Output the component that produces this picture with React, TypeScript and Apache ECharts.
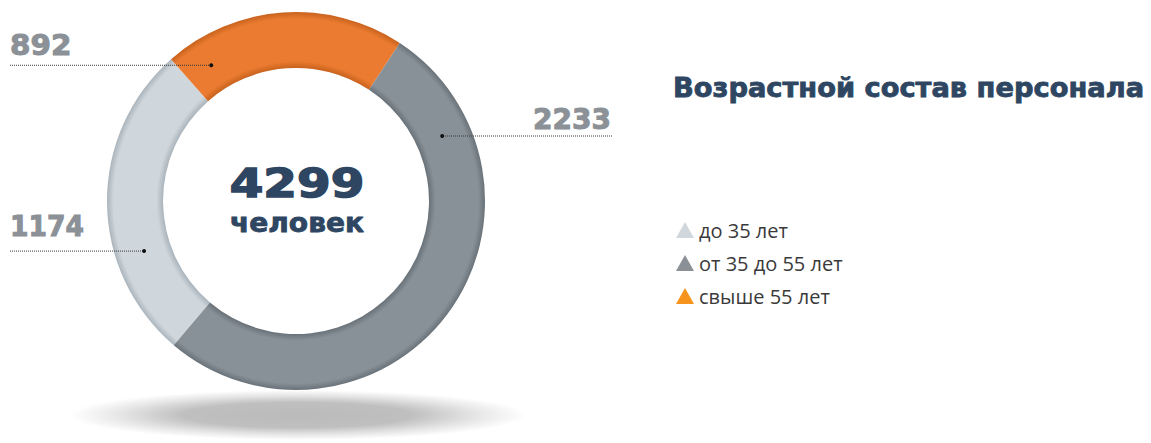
import { useEffect, useRef } from 'react';
import * as echarts from 'echarts';

// ---- data ----
const categories: string[] = ['до 35 лет', 'от 35 до 55 лет', 'свыше 55 лет'];
const values: number[] = [1174, 2233, 892];
const centerCaption: string = 'человек';
const title: string = 'Возрастной состав персонала';
// clockwise drawing order of the ring (indices into categories)
const ringOrder: number[] = [0, 2, 1];

// ---- styles ----
const baseColors = ['#d0d7dc', '#889098', '#ea7b30'];
const edgeColors = ['#aab4bc', '#6a7279', '#c8621d'];
const legendColors = ['#d1d8dd', '#8a9096', '#f7941d'];

const CX = 296;
const CY = 201;
const R_IN = 133;
const R_OUT = 189;
const START_CW_FROM_TOP = 220.3; // degrees, clockwise from 12 o'clock
const DOT_R = 160;

// label layout per category: fraction of the segment where the dot sits,
// the x where the dotted line ends, and text placement
const labelLayout = [
  { frac: 0.32, lineEndX: 10, textX: 10, align: 'left', textGap: 11, scaleX: 0.95 },
  { frac: 0.175, lineEndX: 612, textX: 611, align: 'right', textGap: 2.5, scaleX: 1 },
  { frac: 0.126, lineEndX: 10, textX: 10, align: 'left', textGap: 6.5, scaleX: 1.05 },
];

function ringGradient(i: number) {
  const k = R_IN / R_OUT;
  return {
    type: 'radial',
    x: CX,
    y: CY,
    r: R_OUT,
    global: true,
    colorStops: [
      { offset: 0, color: edgeColors[i] },
      { offset: k, color: edgeColors[i] },
      { offset: k + 0.035, color: baseColors[i] },
      { offset: 0.965, color: baseColors[i] },
      { offset: 1, color: edgeColors[i] },
    ],
  };
}

export default function App() {
  const ref = useRef<HTMLDivElement>(null);

  useEffect(() => {
    if (!ref.current) return;
    const chart = echarts.init(ref.current, null, { renderer: 'svg' });
    const total = values.reduce((a, b) => a + b, 0);

    // angles for dots
    const dotAngle: number[] = [];
    let cum = START_CW_FROM_TOP;
    ringOrder.forEach((idx) => {
      const span = (values[idx] / total) * 360;
      dotAngle[idx] = cum + labelLayout[idx].frac * span;
      cum += span;
    });

    const labelGraphics: any[] = [];
    categories.forEach((_, i) => {
      const a = (dotAngle[i] * Math.PI) / 180;
      const dx = CX + DOT_R * Math.sin(a);
      const dy = CY - DOT_R * Math.cos(a);
      const L = labelLayout[i];
      labelGraphics.push({
        type: 'line',
        z: 100,
        silent: true,
        shape: { x1: L.lineEndX, y1: dy, x2: dx, y2: dy },
        style: { stroke: '#3a3a3a', lineWidth: 1, lineDash: [1, 1] },
      });
      labelGraphics.push({
        type: 'circle',
        z: 101,
        silent: true,
        shape: { cx: dx, cy: dy, r: 2 },
        style: { fill: '#111' },
      });
      labelGraphics.push({
        type: 'text',
        z: 101,
        silent: true,
        x: L.textX,
        y: dy - L.textGap,
        scaleX: L.scaleX,
        style: {
          text: String(values[i]),
          fill: '#8b9197',
          stroke: '#8b9197',
          lineWidth: 1,
          font: 'bold 28px "DejaVu Sans"',
          textAlign: L.align,
          align: L.align,
          textVerticalAlign: 'bottom',
          verticalAlign: 'bottom',
        },
      });
    });

    chart.setOption({
      animation: false,
      backgroundColor: '#ffffff',
      legend: {
        orient: 'vertical',
        left: 676,
        top: 220,
        padding: 0,
        icon: 'triangle',
        itemWidth: 18,
        itemHeight: 16,
        itemGap: 13,
        selectedMode: false,
        textStyle: {
          fontFamily: '"Open Sans", sans-serif',
          fontSize: 20,
          lineHeight: 19,
          color: '#3a3a3a',
        },
        data: categories.map((name, i) => ({ name, itemStyle: { color: legendColors[i] } })),
      },
      graphic: [
        {
          type: 'circle',
          z: -10,
          silent: true,
          x: 298,
          y: 415,
          scaleY: 0.11,
          shape: { cx: 0, cy: 0, r: 228 },
          style: {
            fill: {
              type: 'radial',
              x: 0.5,
              y: 0.5,
              r: 0.5,
              colorStops: [
                { offset: 0, color: 'rgba(0,0,0,0.27)' },
                { offset: 0.5, color: 'rgba(0,0,0,0.25)' },
                { offset: 0.78, color: 'rgba(0,0,0,0.10)' },
                { offset: 1, color: 'rgba(0,0,0,0)' },
              ],
            },
          },
        },
        {
          type: 'text',
          z: 100,
          silent: true,
          x: 297,
          y: 183,
          scaleX: 1.24,
          style: {
            text: String(total),
            fill: '#2e4661',
            stroke: '#2e4661',
            lineWidth: 1.5,
            font: 'bold 39px "DejaVu Sans"',
            textAlign: 'center',
            align: 'center',
            textVerticalAlign: 'middle',
            verticalAlign: 'middle',
          },
        },
        {
          type: 'text',
          z: 100,
          silent: true,
          x: 297,
          y: 223,
          scaleX: 1.08,
          style: {
            text: centerCaption,
            fill: '#2e4661',
            stroke: '#2e4661',
            lineWidth: 0.8,
            font: 'bold 26px "DejaVu Sans"',
            textAlign: 'center',
            align: 'center',
            textVerticalAlign: 'middle',
            verticalAlign: 'middle',
          },
        },
        {
          type: 'text',
          z: 100,
          silent: true,
          x: 673,
          y: 88,
          scaleX: 1.05,
          style: {
            text: title,
            fill: '#2e4661',
            stroke: '#2e4661',
            lineWidth: 0.8,
            font: 'bold 26px "DejaVu Sans"',
            textAlign: 'left',
            align: 'left',
            textVerticalAlign: 'middle',
            verticalAlign: 'middle',
          },
        },
        ...labelGraphics,
      ],
      series: [
        {
          type: 'pie',
          center: [CX, CY],
          radius: [R_IN, R_OUT],
          startAngle: 90 - START_CW_FROM_TOP + 360,
          clockwise: true,
          silent: true,
          label: { show: false },
          labelLine: { show: false },
          emphasis: { disabled: true },
          itemStyle: { borderWidth: 0 },
          data: ringOrder.map((i) => ({
            name: categories[i],
            value: values[i],
            itemStyle: { color: ringGradient(i) },
          })),
        },
      ],
    });
    return () => chart.dispose();
  }, []);

  return (
    <div
      ref={ref}
      style={{ position: 'fixed', left: 0, top: 0, width: 1151, height: 443 }}
    />
  );
}
